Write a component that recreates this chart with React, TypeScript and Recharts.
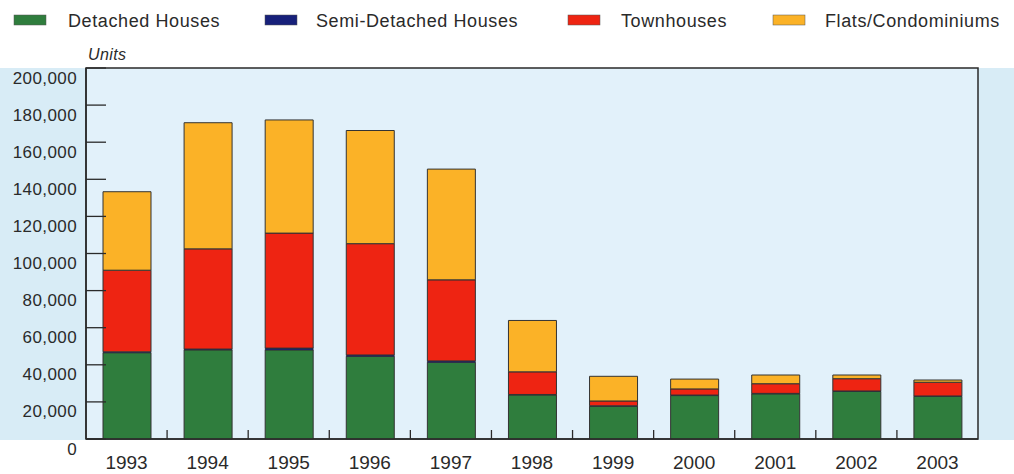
import React from 'react';
import {
  BarChart,
  Bar,
  XAxis,
  YAxis,
  CartesianGrid,
  Legend,
  ReferenceArea,
} from 'recharts';

const years = ['1993', '1994', '1995', '1996', '1997', '1998', '1999', '2000', '2001', '2002', '2003'];
const detached = [46500, 48000, 48000, 44500, 41300, 23700, 17600, 23400, 24300, 25600, 23000];
const semiDetached = [500, 500, 1000, 800, 800, 300, 300, 300, 300, 300, 200];
const townhouses = [44000, 54000, 62000, 60000, 43700, 12200, 2600, 3300, 5200, 6600, 7400];
const flats = [42300, 68000, 61000, 61000, 59700, 27700, 13300, 5300, 4700, 2000, 1200];
const yTicks = [0, 20000, 40000, 60000, 80000, 100000, 120000, 140000, 160000, 180000, 200000];
const seriesNames = ['Detached Houses', 'Semi-Detached Houses', 'Townhouses', 'Flats/Condominiums'];

const data = years.map((year, i) => ({
  year,
  detached: detached[i],
  semi: semiDetached[i],
  town: townhouses[i],
  flats: flats[i],
}));

const COLORS = {
  detached: '#2f7d3d',
  semi: '#17207a',
  town: '#ee2412',
  flats: '#fbb227',
};

const W = 1014;
const H = 474;
const PLOT_LEFT = 86;
const PLOT_RIGHT = 978;
const PLOT_TOP = 68;
const PLOT_BOTTOM = 439;
const BAND = (PLOT_RIGHT - PLOT_LEFT) / years.length;
const FONT = '"Liberation Sans", Arial, Helvetica, sans-serif';
const INK = '#2a2a2a';

// legend swatch / text x positions, as laid out in the original
const LEGEND_POS = [
  { swatch: 14, text: 68 },
  { swatch: 265, text: 316 },
  { swatch: 568, text: 621 },
  { swatch: 773, text: 825 },
];

const fmt = (v: number) => v.toLocaleString('en-US');

const YTick = (props: any) => {
  const { x, y, payload } = props;
  return (
    <g>
      <line x1={x} x2={x + 20} y1={y} y2={y} stroke={INK} strokeWidth={1.3} />
      <text
        x={x - 9}
        y={y + 10}
        textAnchor="end"
        dominantBaseline="central"
        fontFamily={FONT}
        fontSize={17}
        letterSpacing={0.4}
        fill={INK}
      >
        {fmt(payload.value)}
      </text>
    </g>
  );
};

const XTick = (props: any) => {
  const { x, y, payload, index } = props;
  const bx = x - BAND / 2;
  return (
    <g>
      {index > 0 && <line x1={bx} x2={bx} y1={y} y2={y - 9} stroke={INK} strokeWidth={1.3} />}
      <text x={x} y={y + 30} textAnchor="middle" fontFamily={FONT} fontSize={19} fill={INK}>
        {payload.value}
      </text>
    </g>
  );
};

const LegendContent = (props: any) => {
  const { payload } = props;
  const items = seriesNames
    .map((name) => (payload || []).find((p: any) => p.value === name))
    .filter(Boolean);
  return (
    <svg width={W} height={40} style={{ display: 'block' }}>
      {items.map((entry: any, i: number) => (
        <g key={entry.value}>
          <rect x={LEGEND_POS[i].swatch} y={15} width={32} height={10} fill={entry.color} stroke="#555" strokeWidth={0.5} />
          <text x={LEGEND_POS[i].text} y={27} fontFamily={FONT} fontSize={18} letterSpacing={0.6} fill={INK}>
            {entry.value}
          </text>
        </g>
      ))}
    </svg>
  );
};

const UnitsLabel = (props: any) => {
  const { viewBox } = props;
  return (
    <text
      x={viewBox.x + viewBox.width + 2}
      y={viewBox.y - 8}
      fontFamily={FONT}
      fontSize={16}
      fontStyle="italic"
      letterSpacing={0.4}
      fill={INK}
    >
      Units
    </text>
  );
};

export default function App() {
  return (
    <div
      style={{
        position: 'absolute',
        left: 0,
        top: 0,
        width: W,
        height: H,
        overflow: 'hidden',
        background: `linear-gradient(to bottom, #ffffff ${PLOT_TOP}px, #d8ecf6 ${PLOT_TOP}px, #d8ecf6 ${PLOT_BOTTOM + 1}px, #ffffff ${PLOT_BOTTOM + 1}px)`,
      }}
    >
      <BarChart
        width={W}
        height={H}
        data={data}
        margin={{ top: PLOT_TOP, right: W - PLOT_RIGHT, left: 0, bottom: 0 }}
        barSize={48}
      >
        <CartesianGrid horizontal={false} vertical={false} fill="#e2f1fa" />
        <XAxis
          dataKey="year"
          height={H - PLOT_BOTTOM}
          axisLine={{ stroke: INK, strokeWidth: 1.5 }}
          tickLine={false}
          tickSize={0}
          tickMargin={0}
          tick={<XTick />}
          interval={0}
        />
        <YAxis
          width={PLOT_LEFT}
          domain={[0, 200000]}
          ticks={yTicks}
          axisLine={{ stroke: INK, strokeWidth: 1.5 }}
          tickLine={false}
          tickSize={0}
          tickMargin={0}
          tick={<YTick />}
          interval={0}
          label={{ value: 'Units', content: <UnitsLabel /> }}
        />
        <Legend
          layout="vertical"
          align="center"
          verticalAlign="middle"
          wrapperStyle={{ top: 0, left: 0, width: W, height: 40 }}
          content={<LegendContent />}
        />
        <Bar dataKey="detached" name="Detached Houses" stackId="a" fill={COLORS.detached} stroke="#333" strokeWidth={1} isAnimationActive={false} />
        <Bar dataKey="semi" name="Semi-Detached Houses" stackId="a" fill={COLORS.semi} stroke="#333" strokeWidth={0.5} isAnimationActive={false} />
        <Bar dataKey="town" name="Townhouses" stackId="a" fill={COLORS.town} stroke="#333" strokeWidth={1} isAnimationActive={false} />
        <Bar dataKey="flats" name="Flats/Condominiums" stackId="a" fill={COLORS.flats} stroke="#333" strokeWidth={1} isAnimationActive={false} />
        <ReferenceArea y1={0} y2={200000} fill="none" stroke={INK} strokeWidth={1.5} ifOverflow="visible" />
      </BarChart>
    </div>
  );
}
